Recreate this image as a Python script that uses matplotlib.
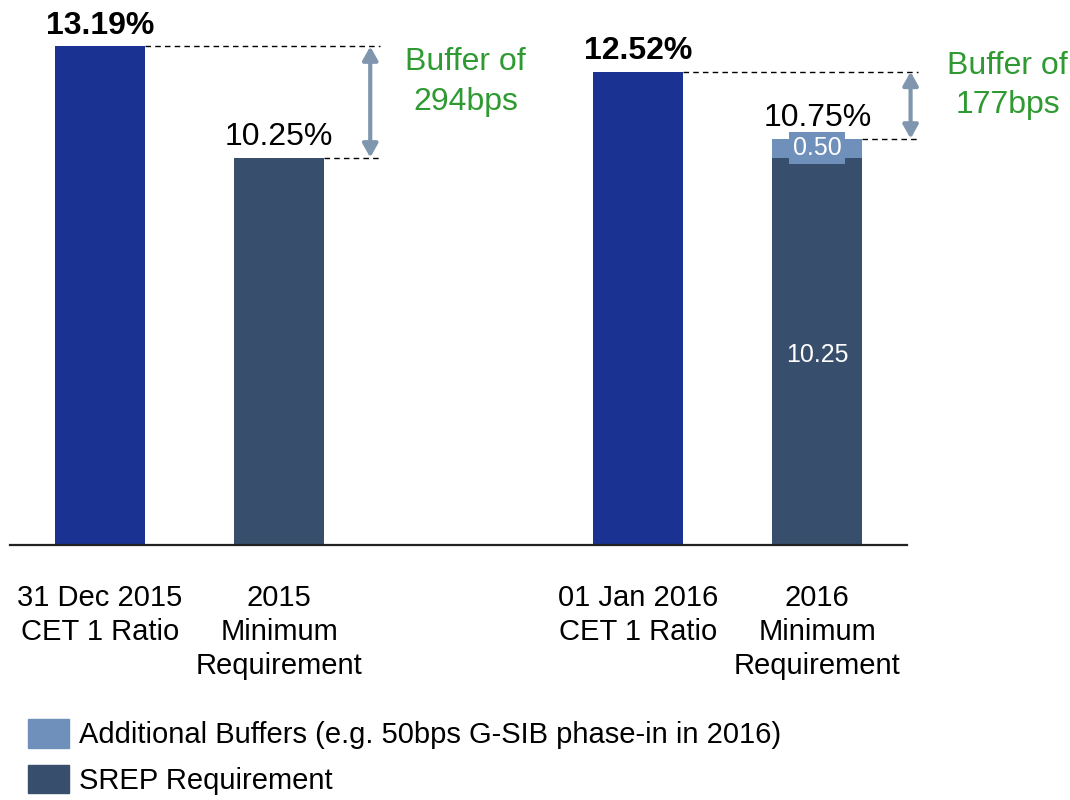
import matplotlib.pyplot as plt
from matplotlib.patches import Patch

plt.rcParams['font.family'] = ['Liberation Sans', 'DejaVu Sans']

# data
categories = ['31 Dec 2015\nCET 1 Ratio', '2015\nMinimum\nRequirement',
              '01 Jan 2016\nCET 1 Ratio', '2016\nMinimum\nRequirement']
positions = [0, 1, 3, 4]
cet1 = [13.19, 12.52]
srep = [10.25, 10.25]
additional = [0.0, 0.50]
buffer_labels = ['Buffer of\n294bps', 'Buffer of\n177bps']

c_cet = '#1a3291'
c_srep = '#374e6d'
c_add = '#7090bc'
c_arrow = '#8096ae'
c_green = '#2e9a31'

fig = plt.figure(figsize=(10.7, 8), dpi=100)
ax = fig.add_axes([0.00935, 0.31875, 0.8383, 0.6615])

w = 0.5
cet_x = [positions[0], positions[2]]
req_x = [positions[1], positions[3]]
ax.bar(cet_x, cet1, width=w, color=c_cet)
ax.bar(req_x, srep, width=w, color=c_srep)
ax.bar(req_x, additional, width=w, bottom=srep, color=c_add)

# value labels
for x, v in zip(cet_x, cet1):
    ax.annotate(f'{v:.2f}%', (x, v), xytext=(0, 4), textcoords='offset points',
                ha='center', va='bottom', fontsize=23, fontweight='bold')
for x, s, a in zip(req_x, srep, additional):
    ax.annotate(f'{s + a:.2f}%', (x, s + a), xytext=(0, 4), textcoords='offset points',
                ha='center', va='bottom', fontsize=23)

# inner labels for the 2016 stack
ax.text(req_x[1], srep[1] + additional[1] / 2, f'{additional[1]:.2f}', ha='center', va='center',
        fontsize=18, color='white',
        bbox=dict(boxstyle='square,pad=0.15', fc=c_add, ec='none'))
ax.text(req_x[1], srep[1] / 2 - 0.1, f'{srep[1]:.2f}', ha='center', va='center',
        fontsize=18, color='white')

# buffer arrows and dashed guides
arrow_x = [1.508, 4.52]
dash_end = [1.564, 4.564]
text_pos = [(2.04, 12.25), (5.06, 12.15)]
for i in range(2):
    top = cet1[i]
    low = srep[i] + additional[i]
    ax.plot([cet_x[i] + w / 2, dash_end[i]], [top, top], ls=(0, (4, 3)), color='black',
            lw=1, clip_on=False)
    ax.plot([req_x[i] + w / 2, dash_end[i]], [low, low], ls=(0, (4, 3)), color='black',
            lw=1, clip_on=False)
    ax.annotate('', xy=(arrow_x[i], top), xytext=(arrow_x[i], low),
                arrowprops=dict(arrowstyle='<|-|>,head_length=0.8,head_width=0.45',
                                color=c_arrow, lw=3, shrinkA=0, shrinkB=0),
                annotation_clip=False)
    ax.text(text_pos[i][0], text_pos[i][1], buffer_labels[i], ha='center', va='center',
            fontsize=23, color=c_green, linespacing=1.4)

ax.set_xlim(-0.5, 4.5)
ax.set_ylim(0, 14)
ax.set_xticks(positions)
ax.set_xticklabels(categories, fontsize=21, linespacing=1.27)
ax.tick_params(axis='x', length=0, pad=28)
ax.set_yticks([])
for s in ['top', 'left', 'right']:
    ax.spines[s].set_visible(False)
ax.spines['bottom'].set_linewidth(1.6)
ax.spines['bottom'].set_color('#222222')

handles = [Patch(color=c_add, label='Additional Buffers (e.g. 50bps G-SIB phase-in in 2016)'),
           Patch(color=c_srep, label='SREP Requirement')]
fig.legend(handles=handles, loc='upper left', bbox_to_anchor=(28 / 1070, 1 - 719 / 800),
           frameon=False, fontsize=21, borderpad=0, borderaxespad=0,
           handlelength=1.42, handleheight=1.15, handletextpad=0.33, labelspacing=0.52)

plt.savefig('out.png', dpi=100)
